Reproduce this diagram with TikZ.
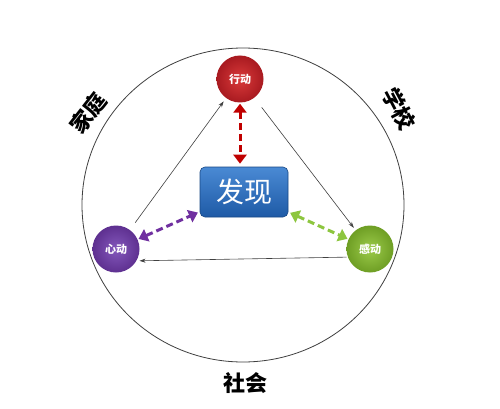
\documentclass[tikz,border=0pt]{standalone}
\usepackage{fontspec}
\newfontfamily\cjk{Noto Sans CJK SC}
\usetikzlibrary{arrows.meta,shadings}
\definecolor{redin}{HTML}{DA3A3A}
\definecolor{redout}{HTML}{A81A20}
\definecolor{purplein}{HTML}{8458BC}
\definecolor{purpleout}{HTML}{5E3090}
\definecolor{greenin}{HTML}{9CCB4A}
\definecolor{greenout}{HTML}{6E9E24}
\definecolor{reddash}{HTML}{C00000}
\definecolor{purpledash}{HTML}{7030A0}
\definecolor{greendash}{HTML}{8DC63F}
\definecolor{boxtop}{HTML}{4A8AD4}
\definecolor{boxbot}{HTML}{1E5AA6}
\tikzset{
  ball/.style={circle, minimum size=47pt, inner sep=0pt, text=white,
    font=\cjk\bfseries\fontsize{11}{11}\selectfont},
  thinarrow/.style={-{Stealth[length=6pt,width=4pt]}, black!75, line width=0.6pt},
  dasharrow/.style={{Triangle[length=9pt,width=13pt]}-{Triangle[length=9pt,width=13pt]},
    line width=3pt, dash pattern=on 7pt off 4pt},
  ring/.style={font=\cjk\bfseries\fontsize{22}{22}\selectfont, text=black},
}
\begin{document}
\begin{tikzpicture}[x=1pt,y=-1pt]
\useasboundingbox (0,0) rectangle (500,409);
\fill[white] (0,0) rectangle (500,409);
\draw[line width=0.8pt, black!75] (243,205) ellipse [x radius=161, y radius=157];

\node[ball, inner color=redin, outer color=redout] (act) at (240,79) {行动};
\node[ball, inner color=purplein, outer color=purpleout] (heart) at (116,249) {心动};
\node[ball, inner color=greenin, outer color=greenout] (feel) at (370,249) {感动};

\node[rounded corners=5pt, minimum width=88pt, minimum height=50pt, inner sep=0pt,
  top color=boxtop, bottom color=boxbot, draw=boxbot!80!black, line width=0.6pt,
  text=white, font=\cjk\fontsize{28}{28}\selectfont] (find) at (244,192) {发现};

\draw[thinarrow, shorten <=9pt, shorten >=4pt] (heart) -- (act);
\draw[thinarrow, shorten <=12pt, shorten >=3pt] (act) -- (feel);
\draw[thinarrow, shorten <=1pt, shorten >=3pt] (feel.200) -- (heart.-30);

\draw[dasharrow, reddash, shorten <=1pt, shorten >=3pt] (act.south) -- (act.south |- find.north);
\draw[dasharrow, purpledash, shorten <=1pt, shorten >=2pt] (heart) -- (find);
\draw[dasharrow, greendash, shorten <=2pt, shorten >=1pt] (find) -- (feel);

\node[ring, rotate=52] (home) at (88,113) {家庭};
\node[ring, rotate=-62] (school) at (399,109) {学校};
\node[ring] (society) at (245,383) {社会};
\end{tikzpicture}
\end{document}
